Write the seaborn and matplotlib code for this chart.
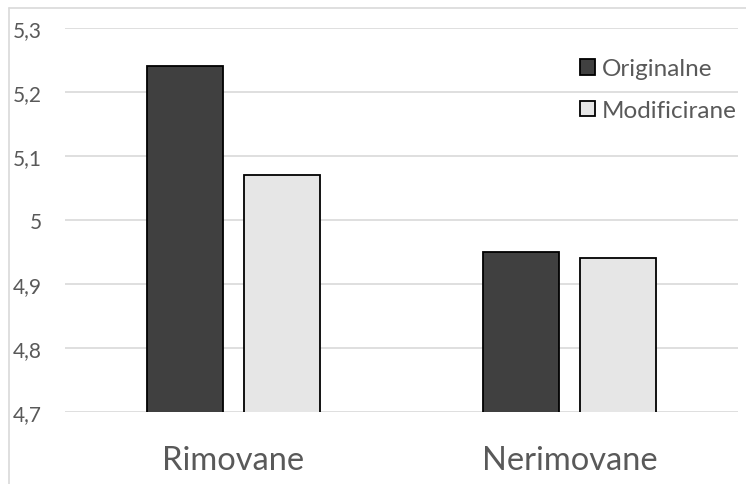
import matplotlib
matplotlib.use("Agg")
import matplotlib.pyplot as plt
from matplotlib.ticker import FuncFormatter
from matplotlib.lines import Line2D
import seaborn as sns
import pandas as pd

categories = ["Rimovane", "Nerimovane"]
series_names = ["Originalne", "Modificirane"]
originalne = [5.24, 4.95]
modificirane = [5.07, 4.94]
y_ticks = [4.7, 4.8, 4.9, 5.0, 5.1, 5.2, 5.3]

df = pd.DataFrame({
    "kategorija": categories * 2,
    "serija": [series_names[0]] * 2 + [series_names[1]] * 2,
    "vrijednost": originalne + modificirane,
})

sns.set_theme(style="white")
plt.rcParams["font.family"] = ["Lato", "DejaVu Sans"]

text_color = "#595959"
grid_color = "#d9d9d9"

fig = plt.figure(figsize=(7.46, 4.85), dpi=100)
ax = fig.add_axes([65 / 746, 1 - 413 / 485, (738 - 65) / 746, (413 - 29) / 485])

sns.barplot(
    data=df, x="kategorija", y="vrijednost", hue="serija",
    order=categories, hue_order=series_names,
    palette=["#404040", "#e6e6e6"], edgecolor="black", linewidth=1.3,
    width=0.574, gap=0.213, ax=ax, zorder=3,
)

ax.set_ylim(4.7, 5.3)
ax.set_xlim(-0.5, 1.5)
ax.set_yticks(y_ticks)
ax.yaxis.set_major_formatter(FuncFormatter(lambda v, p: f"{v:g}".replace(".", ",")))
ax.grid(axis="y", color=grid_color, linewidth=1.2, zorder=0)
ax.set_axisbelow(True)
for s in ax.spines.values():
    s.set_visible(False)
ax.tick_params(axis="both", length=0)
ax.tick_params(axis="y", labelsize=15, labelcolor=text_color, pad=16.5)
ax.tick_params(axis="x", labelsize=23.5, labelcolor=text_color, pad=24)
ax.set_xlabel("")
ax.set_ylabel("")

leg = ax.legend(
    loc="upper right", bbox_to_anchor=(1.009, 0.94), frameon=False,
    fontsize=17.5, labelcolor=text_color, handlelength=0.62, handleheight=0.62,
    handletextpad=0.3, labelspacing=0.85, borderaxespad=0.1, borderpad=0.2,
)

# chart area outline
fig.add_artist(Line2D([9 / 746, 9 / 746], [0, 1 - 9 / 485], color=grid_color, lw=1.2))
fig.add_artist(Line2D([9 / 746, 1], [1 - 9 / 485, 1 - 9 / 485], color=grid_color, lw=1.2))

fig.savefig("out.png", dpi=100)
